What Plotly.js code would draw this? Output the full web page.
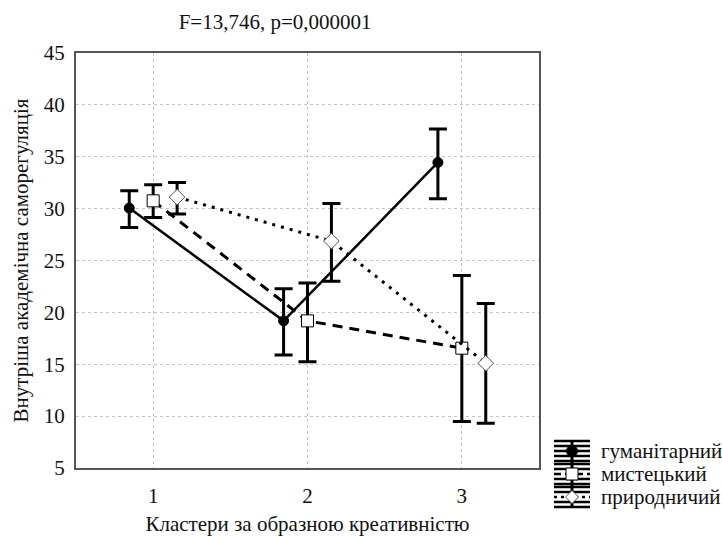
<!DOCTYPE html>
<html>
<head>
<meta charset="utf-8">
<script src="https://cdn.plot.ly/plotly-3.0.1.min.js"></script>
<style>
html,body{margin:0;padding:0;background:#fff;}
#chart{width:722px;height:536px;}
</style>
</head>
<body>
<div id="chart"></div>
<script>
// Categories (clusters of figurative creativity)
const clusters = [1, 2, 3];
const tickLabels = ['1', '2', '3'];
const yTicks = [5, 10, 15, 20, 25, 30, 35, 40, 45];
const seriesNames = ['гуманітарний', 'мистецький', 'природничий'];

// Means
const humMean = [30.05, 19.18, 34.45];
const artMean = [30.75, 19.18, 16.55];
const natMean = [31.11, 26.87, 15.10];

// Upper / lower error bar ends
const humUpper = [31.72, 22.27, 37.67];
const humLower = [28.18, 15.90, 30.95];
const artUpper = [32.30, 22.82, 23.55];
const artLower = [29.14, 15.25, 9.47];
const natUpper = [32.52, 30.49, 20.85];
const natLower = [29.47, 23.01, 9.31];

const FONT = 'Liberation Serif';
const FS = 21;
const offs = [-0.155, 0, 0.155];

const lineStyles = [
  {color: '#000', width: 2.5, dash: 'solid'},
  {color: '#000', width: 3, dash: '10px,7px'},
  {color: '#000', width: 3, dash: '3px,6px'}
];
const markerStyles = [
  {symbol: 'circle', size: 10, color: '#000', line: {color: '#000', width: 1}},
  {symbol: 'square', size: 12, color: '#fff', line: {color: '#000', width: 1}},
  {symbol: 'diamond', size: 12, color: '#fff', line: {color: '#555', width: 1}}
];

function mk(k, mean, up, lo) {
  return {
    type: 'scatter', mode: 'lines+markers', name: seriesNames[k],
    x: clusters.map(c => c + offs[k]), y: mean,
    line: lineStyles[k], marker: markerStyles[k],
    error_y: {
      type: 'data', symmetric: false,
      array: up.map((u, i) => u - mean[i]),
      arrayminus: lo.map((l, i) => mean[i] - l),
      color: '#000', thickness: 3, width: 9
    }
  };
}

const traces = [
  mk(0, humMean, humUpper, humLower),
  mk(1, artMean, artUpper, artLower),
  mk(2, natMean, natUpper, natLower)
];

// Plot area in pixels and paper-coordinate helpers (for the hand-drawn legend)
const W = 722, H = 536;
const PL = 76, PR = 539, PT = 53, PB = 468;
const px = x => (x - PL) / (PR - PL);
const py = y => (PB - y) / (PB - PT);
function cshape(s) { return Object.assign({xref: 'paper', yref: 'paper'}, s); }

// Statistica-style legend glyphs
const legendRows = [451, 474, 497];
const gx0 = 554, gx1 = 590, gxc = 572, textX = 599;
const shapes = [];
const annotations = [];
shapes.push(cshape({type: 'line', x0: px(gxc), x1: px(gxc), y0: py(legendRows[0] - 10), y1: py(legendRows[2] + 10),
                    line: {color: '#000', width: 3}}));
legendRows.forEach((yc, k) => {
  [yc - 10, yc - 5, yc + 5, yc + 10].forEach(yy => {
    shapes.push(cshape({type: 'line', x0: px(gx0), x1: px(gx1), y0: py(yy), y1: py(yy),
                        line: {color: '#000', width: 2.5}}));
  });
  shapes.push(cshape({type: 'line', x0: px(gx0), x1: px(gx1), y0: py(yc), y1: py(yc),
                      line: {color: '#000', width: 2.5, dash: k === 0 ? 'solid' : (k === 1 ? '7px,4px' : '3px,4px')}}));
  if (k === 0) {
    shapes.push(cshape({type: 'circle', x0: px(gxc - 5.5), x1: px(gxc + 5.5), y0: py(yc - 5.5), y1: py(yc + 5.5),
                        fillcolor: '#000', line: {color: '#000', width: 1}}));
  } else if (k === 1) {
    shapes.push(cshape({type: 'rect', x0: px(gxc - 6), x1: px(gxc + 6), y0: py(yc - 6), y1: py(yc + 6),
                        fillcolor: '#fff', line: {color: '#000', width: 1}}));
  } else {
    const d = 6.5;
    shapes.push(cshape({type: 'path',
      path: `M ${px(gxc - d)} ${py(yc)} L ${px(gxc)} ${py(yc - d)} L ${px(gxc + d)} ${py(yc)} L ${px(gxc)} ${py(yc + d)} Z`,
      fillcolor: '#fff', line: {color: '#555', width: 1}}));
  }
  annotations.push({text: seriesNames[k], xref: 'paper', yref: 'paper', x: px(textX), y: py(yc),
                    xanchor: 'left', yanchor: 'middle', showarrow: false,
                    font: {family: FONT, size: FS, color: '#111'}});
});

const layout = {
  width: W, height: H,
  paper_bgcolor: '#fff', plot_bgcolor: '#fff',
  margin: {l: PL, r: W - PR, t: PT, b: H - PB, pad: 0},
  font: {family: FONT, size: FS, color: '#111'},
  title: {text: 'F=13,746, p=0,000001', x: 0.381, xref: 'container', xanchor: 'center',
          y: 0.96, yref: 'container', yanchor: 'middle', font: {family: FONT, size: FS, color: '#111'}},
  xaxis: {
    range: [0.5, 3.5], tickvals: clusters, ticktext: tickLabels,
    showgrid: true, gridcolor: '#c4c4c4', griddash: 'dot', gridwidth: 1,
    zeroline: false, showline: true, linecolor: '#555', linewidth: 2, mirror: true,
    ticks: '', ticklabelstandoff: 8, tickfont: {family: FONT, size: FS, color: '#111'},
    title: {text: 'Кластери за образною креативністю', standoff: 12, font: {family: FONT, size: FS, color: '#111'}}
  },
  yaxis: {
    range: [5, 45], tickvals: yTicks,
    showgrid: true, gridcolor: '#c4c4c4', griddash: 'dot', gridwidth: 1,
    zeroline: false, showline: true, linecolor: '#555', linewidth: 2, mirror: true,
    ticks: '', ticklabelstandoff: 5, tickfont: {family: FONT, size: FS, color: '#111'},
    title: {text: 'Внутріша академічна саморегуляція', standoff: 9, font: {family: FONT, size: FS, color: '#111'}}
  },
  shapes: shapes,
  annotations: annotations,
  showlegend: false
};

Plotly.newPlot('chart', traces, layout, {displayModeBar: false, staticPlot: true});
</script>
</body>
</html>
